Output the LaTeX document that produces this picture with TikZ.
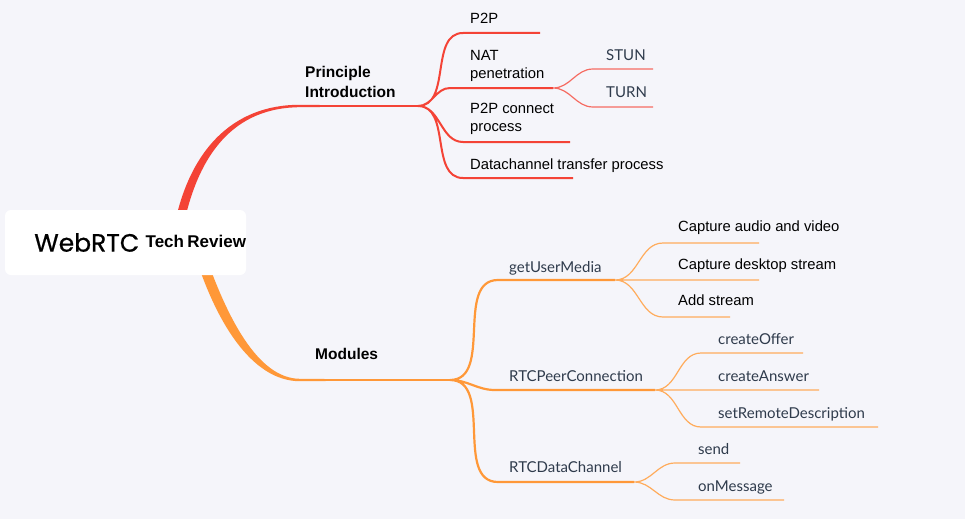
\documentclass[tikz,border=0pt]{standalone}
\usepackage{fontspec}
\setmainfont{Liberation Sans}
\newfontfamily\latofont{Lato}
\newfontfamily\popfont[FakeBold=0.7]{Poppins}

\definecolor{bgc}{RGB}{245,245,250}
\definecolor{redb}{RGB}{244,67,54}
\definecolor{redl}{RGB}{245,108,98}
\definecolor{orab}{RGB}{255,152,56}
\definecolor{oral}{RGB}{255,172,92}
\definecolor{slate}{RGB}{47,59,76}

\begin{document}
\begin{tikzpicture}[x=1pt,y=-1pt,
  rootbox/.style={fill=white,rounded corners=6pt,minimum height=65pt,inner xsep=0pt,
    text width=241pt,align=right},
  topic/.style={anchor=base west,inner sep=0pt,align=left,
    font=\fontsize{15.5}{20}\selectfont\bfseries},
  leaf/.style={anchor=base west,inner sep=0pt,align=left,
    font=\fontsize{14.8}{18.5}\selectfont},
  soft/.style={anchor=base west,inner sep=0pt,text=slate,
    font=\latofont\fontsize{15}{18}\selectfont},
  redline/.style={draw=redb,line width=2pt},
  redthin/.style={draw=redl,line width=1.2pt},
  oraline/.style={draw=orab,line width=2.2pt},
  orathin/.style={draw=oral,line width=1.2pt}]

  \fill[bgc] (0,0) rectangle (965,519);
  \useasboundingbox (0,0) rectangle (965,519);

  % junctions and line ends
  \coordinate (rootR) at (176,242);
  \coordinate (rootO) at (196,242);
  \coordinate (pj) at (418,106);
  \coordinate (mj) at (450,380);
  \coordinate (p2pA) at (463,33);   \coordinate (p2pB) at (540,33);
  \coordinate (natA) at (450,88);   \coordinate (natB) at (553,88);
  \coordinate (stunA) at (593,69);  \coordinate (stunB) at (653,69);
  \coordinate (turnA) at (593,107); \coordinate (turnB) at (653,107);
  \coordinate (conA) at (463,142);  \coordinate (conB) at (570,142);
  \coordinate (dcA) at (463,178);   \coordinate (dcB) at (573,178);
  \coordinate (gumA) at (498,280);  \coordinate (gumB) at (615,280);
  \coordinate (capA) at (663,243);  \coordinate (capB) at (759,243);
  \coordinate (deskB) at (759,280);
  \coordinate (addA) at (663,317);  \coordinate (addB) at (730,317);
  \coordinate (pcA) at (495,390);   \coordinate (pcB) at (655,390);
  \coordinate (offA) at (701,353);  \coordinate (offB) at (803,353);
  \coordinate (ansB) at (819,390);
  \coordinate (setA) at (701,427);  \coordinate (setB) at (878,427);
  \coordinate (dchA) at (498,482);  \coordinate (dchB) at (634,482);
  \coordinate (sendA) at (675,463); \coordinate (sendB) at (740,463);
  \coordinate (msgA) at (675,500);  \coordinate (msgB) at (784,500);

  % main branches (tapered)
  \fill[redb] (171.5,242) .. controls (185,149) and (234,104.5) .. (300,104.8)
    -- (pj) -- (300,107.2) .. controls (236,107.5) and (195,151) .. (180.5,242) -- cycle;
  \draw[redb,line width=2.4pt] (300,106) -- (pj);
  \fill[orab] (191,242) .. controls (214,322) and (252,381.3) .. (300,381.2)
    -- (mj) -- (300,378.8) .. controls (258,378.7) and (226,318) .. (201,242) -- cycle;
  \draw[orab,line width=2.4pt] (300,380) -- (mj);

  \node[rootbox] (root) at (125.5,242.5)
    {{\popfont\fontsize{25}{25}\selectfont WebRTC}\hspace{6.5pt}\raisebox{4pt}{\bfseries\fontsize{17}{18}\selectfont Tech Review}};

  \node[topic] (principle) at (305,97) {Principle\\Introduction};
  \node[topic] (modules) at (315,359) {Modules};

  \node[leaf] (p2p) at (470,24) {P2P};
  \node[leaf] (nat) at (470,78.5) {NAT\\penetration};
  \node[leaf] (con) at (470,131.5) {P2P connect\\process};
  \node[leaf] (dc) at (470,169.5) {Datachannel transfer process};
  \node[soft] (stun) at (606,60) {STUN};
  \node[soft] (turn) at (606,97.5) {TURN};

  \node[soft] (gum) at (509,272) {getUserMedia};
  \node[soft] (pc) at (509,381.5) {RTCPeerConnection};
  \node[soft] (dch) at (509,472.5) {RTCDataChannel};
  \node[leaf] (cap) at (678,231.5) {Capture audio and video};
  \node[leaf] (desk) at (678,269.5) {Capture desktop stream};
  \node[leaf] (add) at (678,305.5) {Add stream};
  \node[soft] (off) at (718,344.5) {createOffer};
  \node[soft] (ans) at (718,381.5) {createAnswer};
  \node[soft] (set) at (718,418.5) {setRemoteDescription};
  \node[soft] (send) at (698,454) {send};
  \node[soft] (msg) at (698,491) {onMessage};

  \path[redline]
    (pj) to[out=0,in=180] (p2pA) -- (p2pB)
    (pj) to[out=0,in=180] (natA) -- (natB)
    (pj) to[out=0,in=180] (conA) -- (conB)
    (pj) to[out=0,in=180] (dcA) -- (dcB);
  \path[redthin]
    (natB) to[out=0,in=180] (stunA) -- (stunB)
    (natB) to[out=0,in=180] (turnA) -- (turnB);

  \path[oraline]
    (mj) to[out=0,in=180] (gumA) -- (gumB)
    (mj) to[out=0,in=180] (pcA) -- (pcB)
    (mj) to[out=0,in=180] (dchA) -- (dchB);
  \path[orathin]
    (gumB) to[out=0,in=180] (capA) -- (capB)
    (gumB) -- (deskB)
    (gumB) to[out=0,in=180] (addA) -- (addB)
    (pcB) to[out=0,in=180] (offA) -- (offB)
    (pcB) -- (ansB)
    (pcB) to[out=0,in=180] (setA) -- (setB)
    (dchB) to[out=0,in=180] (sendA) -- (sendB)
    (dchB) to[out=0,in=180] (msgA) -- (msgB);

\end{tikzpicture}
\end{document}
